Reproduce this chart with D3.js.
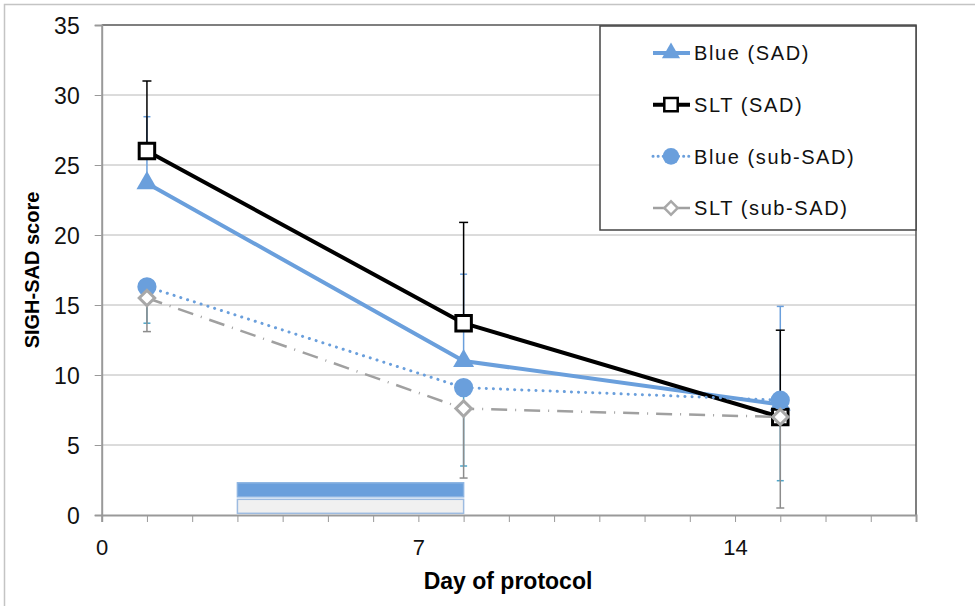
<!DOCTYPE html>
<html>
<head>
<meta charset="utf-8">
<script src="https://cdn.jsdelivr.net/npm/d3@7"></script>
<style>
  body { margin: 0; background: #fff; }
  svg { display: block; font-family: "Liberation Sans", Arial, Helvetica, sans-serif; }
</style>
</head>
<body>
<div id="chart"></div>
<script>
// data
const days = [1, 8, 15];
const blueSAD = [23.7, 11.0, 7.9];
const blueSADErr = [4.75, 6.2, 7.0];      // upper bars only
const sltSAD = [26.0, 13.7, 7.0];
const sltSADErr = [5.0, 7.2, 6.2];        // upper bars only
const blueSub = [16.3, 9.1, 8.2];
const blueSubErr = [2.6, 5.6, 5.75];      // lower bars only
const sltSub = [15.5, 7.6, 7.0];
const sltSubErr = [2.4, 4.96, 6.5];       // lower bars only

const yTicks = [0, 5, 10, 15, 20, 25, 30, 35];
const xTickLabels = [0, 7, 14];
const legendLabels = ["Blue (SAD)", "SLT (SAD)", "Blue (sub-SAD)", "SLT (sub-SAD)"];

// light-exposure period under the curves (day range, score range)
const periodStart = [3, 3];
const periodEnd = [8, 8];
const periodLo = [1.3, 0.12];
const periodHi = [2.3, 1.12];

const width = 975, height = 606;
const blue = "#6a9fdc";

const svg = d3.select("#chart").append("svg")
    .attr("width", width)
    .attr("height", height);

// outer frame
svg.append("rect")
    .attr("x", 4.5).attr("y", 4.5)
    .attr("width", 1200).attr("height", 900)
    .attr("fill", "none")
    .attr("stroke", "#c4c4c4")
    .attr("stroke-width", 1.5);

const x = d3.scaleLinear().domain([0, 18]).range([101.7, 916]);
const y = d3.scaleLinear().domain([0, 35]).range([515, 25]);

// gridlines
svg.append("g")
    .selectAll("line")
    .data(yTicks.filter(d => d > 0 && d < 35))
    .enter().append("line")
    .attr("x1", x(0)).attr("x2", x(18))
    .attr("y1", d => y(d)).attr("y2", d => y(d))
    .attr("stroke", "#b8b8b8").attr("stroke-width", 1);

// plot border top/right
svg.append("path")
    .attr("d", `M${x(0)},${y(35)}H${x(18)}V${y(0)}`)
    .attr("fill", "none")
    .attr("stroke", "#555").attr("stroke-width", 1.5);

// y axis
const yAxis = svg.append("g")
    .attr("transform", `translate(${x(0)},0)`)
    .call(d3.axisLeft(y).tickValues(yTicks).tickSize(7).tickPadding(15));
yAxis.select(".domain").attr("stroke", "#999").attr("stroke-width", 2);
yAxis.selectAll(".tick line").attr("stroke", "#999");
yAxis.selectAll("text")
    .attr("font-size", 23)
    .attr("fill", "#111")
    .attr("dy", "0.38em");

// x axis
const xAxis = svg.append("g")
    .attr("transform", `translate(0,${y(0)})`)
    .call(d3.axisBottom(x).ticks(18).tickSize(7)
        .tickFormat(d => xTickLabels.includes(d) ? d : ""));
xAxis.select(".domain").attr("stroke", "#999").attr("stroke-width", 2);
xAxis.selectAll(".tick line").attr("stroke", "#999");
xAxis.selectAll("text")
    .attr("font-size", 22)
    .attr("fill", "#111")
    .attr("y", 24);

// axis titles
svg.append("text")
    .attr("x", 508).attr("y", 589)
    .attr("text-anchor", "middle")
    .attr("font-size", 23).attr("font-weight", "bold")
    .text("Day of protocol");

svg.append("text")
    .attr("transform", `translate(39,270) rotate(-90)`)
    .attr("text-anchor", "middle")
    .attr("font-size", 20).attr("font-weight", "bold")
    .text("SIGH-SAD score");

// protocol bars
const periodFill = [blue, "#f0f0f0"];
const periodStroke = ["#8db4e2", "#9dbbe0"];
svg.append("g")
    .selectAll("rect")
    .data(periodStart.map((s, i) => ({s: s, e: periodEnd[i], lo: periodLo[i], hi: periodHi[i], i: i})))
    .enter().append("rect")
    .attr("x", d => x(d.s)).attr("width", d => x(d.e) - x(d.s))
    .attr("y", d => y(d.hi)).attr("height", d => y(d.lo) - y(d.hi))
    .attr("fill", d => periodFill[d.i])
    .attr("stroke", d => periodStroke[d.i])
    .attr("stroke-width", 1.5);

// error bars
function errorBars(vals, errs, dir, color, capW, sw) {
    const g = svg.append("g");
    vals.forEach((v, i) => {
        const end = v + dir * errs[i];
        g.append("line")
            .attr("x1", x(days[i])).attr("x2", x(days[i]))
            .attr("y1", y(v)).attr("y2", y(end))
            .attr("stroke", color).attr("stroke-width", sw);
        g.append("line")
            .attr("x1", x(days[i]) - capW / 2).attr("x2", x(days[i]) + capW / 2)
            .attr("y1", y(end)).attr("y2", y(end))
            .attr("stroke", color).attr("stroke-width", 1.5);
    });
}
errorBars(blueSub, blueSubErr, -1, "#4fa6c9", 7, 1.5);
errorBars(sltSub, sltSubErr, -1, "#8c8c8c", 8, 1.5);
errorBars(blueSAD, blueSADErr, 1, blue, 7, 1.5);
errorBars(sltSAD, sltSADErr, 1, "#000", 9, 1.5);

const line = d3.line().x((d, i) => x(days[i])).y(d => y(d));

function drawSeries(vals, opts) {
    svg.append("path")
        .datum(vals)
        .attr("d", line)
        .attr("fill", "none")
        .attr("stroke", opts.color)
        .attr("stroke-width", opts.width)
        .attr("stroke-dasharray", opts.dash || null)
        .attr("stroke-linecap", opts.cap || "butt")
        .attr("stroke-linejoin", "round");
    svg.append("g")
        .selectAll("path")
        .data(vals)
        .enter().append("path")
        .attr("transform", (d, i) => `translate(${x(days[i])},${y(d)})${opts.rotate ? " rotate(45)" : ""}`)
        .attr("d", d3.symbol().type(opts.symbol).size(opts.size))
        .attr("fill", opts.fill)
        .attr("stroke", opts.mstroke || "none")
        .attr("stroke-width", opts.mwidth || 0);
}

const seriesOpts = [
    {color: blue, width: 4, symbol: d3.symbolTriangle, size: 190, fill: blue},
    {color: "#000", width: 4, symbol: d3.symbolSquare, size: 240, fill: "#fff", mstroke: "#000", mwidth: 3},
    {color: blue, width: 3, dash: "0.1 7", cap: "round", symbol: d3.symbolCircle, size: 290, fill: blue},
    {color: "#a0a0a0", width: 2.5, dash: "16 8 1 8", symbol: d3.symbolSquare, size: 120, fill: "#fff", mstroke: "#a8a8a8", mwidth: 3, rotate: true}
];
[blueSAD, sltSAD, blueSub, sltSub].forEach((vals, k) => drawSeries(vals, seriesOpts[k]));

// legend
const legend = svg.append("g");
legend.append("rect")
    .attr("x", 600).attr("y", 26)
    .attr("width", 316).attr("height", 204)
    .attr("fill", "#fff")
    .attr("stroke", "#444").attr("stroke-width", 1.5);

const legendY = d3.scalePoint().domain(legendLabels).range([53, 208]);
legendLabels.forEach((lab, k) => {
    const o = seriesOpts[k];
    const ly = legendY(lab);
    legend.append("line")
        .attr("x1", 653).attr("x2", 690)
        .attr("y1", ly).attr("y2", ly)
        .attr("stroke", o.color)
        .attr("stroke-width", o.width)
        .attr("stroke-dasharray", k === 2 ? "0.1 5" : (k === 3 ? "12 6 1 6" : null))
        .attr("stroke-linecap", o.cap || "butt");
    legend.append("path")
        .attr("transform", `translate(671,${ly})${o.rotate ? " rotate(45)" : ""}`)
        .attr("d", d3.symbol().type(o.symbol).size(o.size * 0.75))
        .attr("fill", o.fill)
        .attr("stroke", o.mstroke || "none")
        .attr("stroke-width", o.mwidth ? 2.5 : 0);
    legend.append("text")
        .attr("x", 694).attr("y", ly)
        .attr("dy", "0.36em")
        .attr("font-size", 20)
        .attr("letter-spacing", 1.6)
        .attr("fill", "#111")
        .text(lab);
});
</script>
</body>
</html>
